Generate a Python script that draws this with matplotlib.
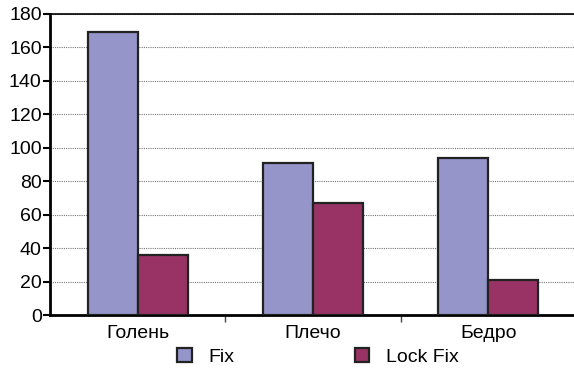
import matplotlib.pyplot as plt
import numpy as np

plt.rcParams['font.family'] = ['Liberation Sans', 'DejaVu Sans']

categories = ["Голень", "Плечо", "Бедро"]
fix_values = [169, 91, 94]
lock_fix_values = [36, 67, 21]
series_names = ["Fix", "Lock Fix"]
y_ticks = [0, 20, 40, 60, 80, 100, 120, 140, 160, 180]

fix_color = "#9595c9"
lock_color = "#993366"


def main():
    fig = plt.figure(figsize=(5.74, 3.68), dpi=100)
    ax = fig.add_axes([50 / 574, 1 - 315 / 368, 526 / 574, 301 / 368])

    x = np.arange(len(categories))
    w = 0.286
    ax.bar(x - w / 2, fix_values, w, color=fix_color, edgecolor="#222222",
           linewidth=1.6, label=series_names[0], zorder=3)
    ax.bar(x + w / 2, lock_fix_values, w, color=lock_color, edgecolor="#222222",
           linewidth=1.6, label=series_names[1], zorder=3)

    ax.set_xlim(-0.5, 2.5)
    ax.set_ylim(0, 180)
    ax.set_yticks(y_ticks)
    ax.yaxis.grid(True, linestyle=(0, (1, 1)), color="#777777", linewidth=0.8, zorder=0)

    ax.set_xticks(x)
    ax.set_xticklabels(categories)
    ax.set_xticks([0.5, 1.5], minor=True)
    ax.tick_params(axis="x", which="major", length=0, pad=7, labelsize=14)
    ax.tick_params(axis="x", which="minor", length=5, width=1, color="#444444", direction="out")
    ax.tick_params(axis="y", length=5, width=1.5, labelsize=14, pad=1)

    for side in ("left", "bottom"):
        ax.spines[side].set_linewidth(2)
    ax.spines["top"].set_linewidth(1.2)
    ax.spines["right"].set_visible(False)

    fig.legend(loc="center left", bbox_to_anchor=(177 / 574, 1 - 357 / 368), ncol=2,
               frameon=False, fontsize=14, handlelength=0.75, handleheight=0.75,
               columnspacing=6.2, handletextpad=0.85, borderpad=0, borderaxespad=0)

    fig.savefig("out.png", dpi=100)
    plt.close(fig)


if __name__ == "__main__":
    main()
